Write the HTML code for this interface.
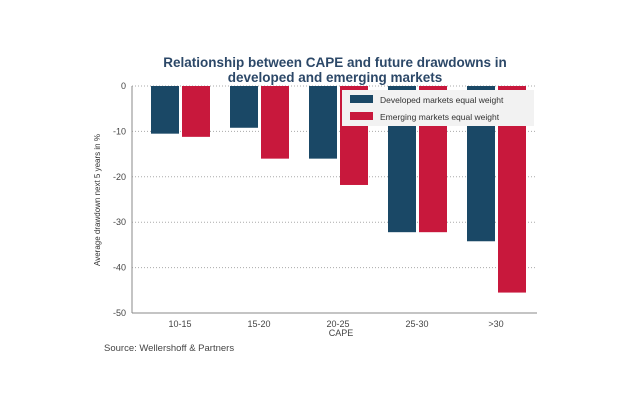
<!DOCTYPE html>
<html><head><meta charset="utf-8"><style>
body{margin:0;background:#fff;width:640px;height:408px;overflow:hidden;font-family:"Liberation Sans",sans-serif}
</style></head><body>
<svg id="c" width="640" height="408" xmlns="http://www.w3.org/2000/svg">
<text x="335" y="67" text-anchor="middle" font-size="13.5" font-weight="bold" fill="#2c4868">Relationship between CAPE and future drawdowns in</text>
<text x="335" y="82" text-anchor="middle" font-size="13.5" font-weight="bold" fill="#2c4868">developed and emerging markets</text>
<text transform="translate(100,200) rotate(-90)" text-anchor="middle" font-size="8" fill="#333">Average drawdown next 5 years in %</text>
<text x="341" y="336" text-anchor="middle" font-size="9" fill="#444">CAPE</text>
<text x="104" y="351" font-size="9.5" fill="#444">Source: Wellershoff &amp; Partners</text>
<g id="grid"></g><g id="bars"></g><g id="axes"></g>
<rect x="342" y="90" width="192" height="36" fill="#f2f2f2"/>
<rect x="350" y="95" width="23" height="8" fill="#1a4866"/>
<text x="380" y="103" font-size="8.5" fill="#333">Developed markets equal weight</text>
<rect x="350" y="112" width="23" height="8" fill="#c8183c"/>
<text x="380" y="120" font-size="8.5" fill="#333">Emerging markets equal weight</text>
</svg>
<script>
const categories=["10-15","15-20","20-25","25-30",">30"];
const developed=[-10.5,-9.2,-16,-32.2,-34.2];
const emerging=[-11.2,-16,-21.8,-32.2,-45.5];
const yTicks=[0,-10,-20,-30,-40,-50];
const NS="http://www.w3.org/2000/svg";
const x0=132,x1=537,yTop=86,yBot=313;
const y=v=>yTop+(0-v)/50*(yBot-yTop);
const cx=i=>x0+48+i*79;
function mk(t,a,p){const e=document.createElementNS(NS,t);for(const k in a)e.setAttribute(k,a[k]);document.getElementById(p).appendChild(e);return e;}
yTicks.forEach(v=>{
 if(v!==-50){const g=mk('line',{x1:x0,x2:x1,y1:y(v),y2:y(v),stroke:'#aaa','stroke-dasharray':'1,2'},'grid');
 
 }
 const t=mk('text',{x:x0-6,y:y(v)+3,'text-anchor':'end','font-size':9,fill:'#444'},'axes');t.textContent=v;
 
 
});
categories.forEach((c,i)=>{
 const b1=mk('rect',{x:cx(i)-29,y:y(0),width:28,height:y(developed[i])-y(0),fill:'#1a4866'},'bars');
 
 
 const b2=mk('rect',{x:cx(i)+2,y:y(0),width:28,height:y(emerging[i])-y(0),fill:'#c8183c'},'bars');
 
 
 const t=mk('text',{x:cx(i),y:y(-50)+14,'text-anchor':'middle','font-size':9,fill:'#444'},'axes');t.textContent=c;
 
 
});
const ax=mk('line',{x1:x0,x2:x0,y1:yTop,y2:yBot,stroke:'#888'},'axes');


const bx=mk('line',{x1:x0,x2:x1,y1:yBot,y2:yBot,stroke:'#888'},'axes');


</script>
</body></html>
